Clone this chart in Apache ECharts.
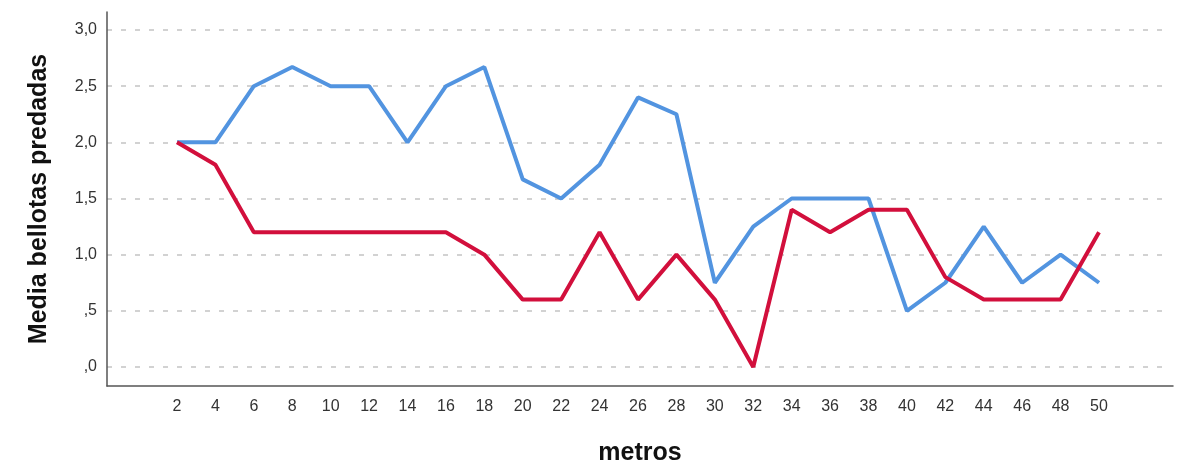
<!DOCTYPE html>
<html>
<head>
<meta charset="utf-8">
<script src="https://cdn.jsdelivr.net/npm/echarts@6/dist/echarts.min.js"></script>
<style>
  html, body { margin: 0; padding: 0; background: #ffffff; }
  #chart { width: 1189px; height: 464px; }
</style>
</head>
<body>
<div id="chart"></div>
<script>
// Distancia en metros
const metros = ['2','4','6','8','10','12','14','16','18','20','22','24','26','28','30','32','34','36','38','40','42','44','46','48','50'];

// Media de bellotas predadas por distancia
const serieAzul = [2.0, 2.0, 2.5, 2.67, 2.5, 2.5, 2.0, 2.5, 2.67, 1.67, 1.5, 1.8, 2.4, 2.25, 0.75, 1.25, 1.5, 1.5, 1.5, 0.5, 0.75, 1.25, 0.75, 1.0, 0.75];
const serieRoja = [2.0, 1.8, 1.2, 1.2, 1.2, 1.2, 1.2, 1.2, 1.0, 0.6, 0.6, 1.2, 0.6, 1.0, 0.6, 0.0, 1.4, 1.2, 1.4, 1.4, 0.8, 0.6, 0.6, 0.6, 1.2];

// Etiquetas del eje Y (coma decimal, sin cero inicial)
const etiquetasY = { 0: ',0', 0.5: ',5', 1: '1,0', 1.5: '1,5', 2: '2,0', 2.5: '2,5', 3: '3,0' };

const FONT = 'Liberation Sans, Arial, sans-serif';

const chart = echarts.init(document.getElementById('chart'), null, { renderer: 'canvas' });

chart.setOption({
  backgroundColor: '#ffffff',
  animation: false,
  grid: [
    // marco de ejes
    { left: 107, right: 16, top: 12, bottom: 78, containLabel: false, outerBoundsMode: 'none' },
    // líneas de referencia horizontales
    { left: 107, right: 22, top: 30, bottom: 97, containLabel: false, outerBoundsMode: 'none' },
    // área de datos
    { left: 177, right: 90, top: 30, bottom: 97, containLabel: false, outerBoundsMode: 'none' }
  ],
  xAxis: [
    {
      gridIndex: 0, type: 'value', min: 0, max: 1,
      axisLine: { show: true, lineStyle: { color: '#555', width: 1.5 } },
      axisTick: { show: false }, axisLabel: { show: false }, splitLine: { show: false },
      name: 'metros', nameLocation: 'middle', nameGap: 55,
      nameTextStyle: { fontFamily: FONT, fontSize: 25, fontWeight: 'bold', color: '#111' }
    },
    {
      gridIndex: 1, type: 'value', min: 0, max: 1, show: false
    },
    {
      gridIndex: 2, type: 'category', data: metros, boundaryGap: false,
      axisLine: { show: false }, axisTick: { show: false }, splitLine: { show: false },
      axisLabel: { margin: 32, fontFamily: FONT, fontSize: 16, color: '#333', interval: 0 }
    }
  ],
  yAxis: [
    {
      gridIndex: 0, type: 'value', min: 0, max: 1,
      axisLine: { show: true, lineStyle: { color: '#555', width: 1.5 } },
      axisTick: { show: false }, axisLabel: { show: false }, splitLine: { show: false },
      name: 'Media bellotas predadas', nameLocation: 'middle', nameGap: 55, nameRotate: 90,
      nameTextStyle: { fontFamily: FONT, fontSize: 25, fontWeight: 'bold', color: '#111' }
    },
    {
      gridIndex: 1, type: 'value', min: 0, max: 3, interval: 0.5,
      axisLine: { show: false }, axisTick: { show: false },
      axisLabel: {
        margin: 10, fontFamily: FONT, fontSize: 16, color: '#333',
        formatter: v => etiquetasY[v] !== undefined ? etiquetasY[v] : ''
      },
      splitLine: { show: true, lineStyle: { color: '#c4c4c4', width: 1.5, type: [5, 9] } }
    },
    {
      gridIndex: 2, type: 'value', min: 0, max: 3, show: false
    }
  ],
  series: [
    {
      name: 'azul', type: 'line', xAxisIndex: 2, yAxisIndex: 2,
      data: serieAzul, symbol: 'none',
      lineStyle: { color: '#5294e0', width: 4 }, z: 3
    },
    {
      name: 'roja', type: 'line', xAxisIndex: 2, yAxisIndex: 2,
      data: serieRoja, symbol: 'none',
      lineStyle: { color: '#d20f3c', width: 4 }, z: 4
    }
  ]
});
</script>
</body>
</html>
